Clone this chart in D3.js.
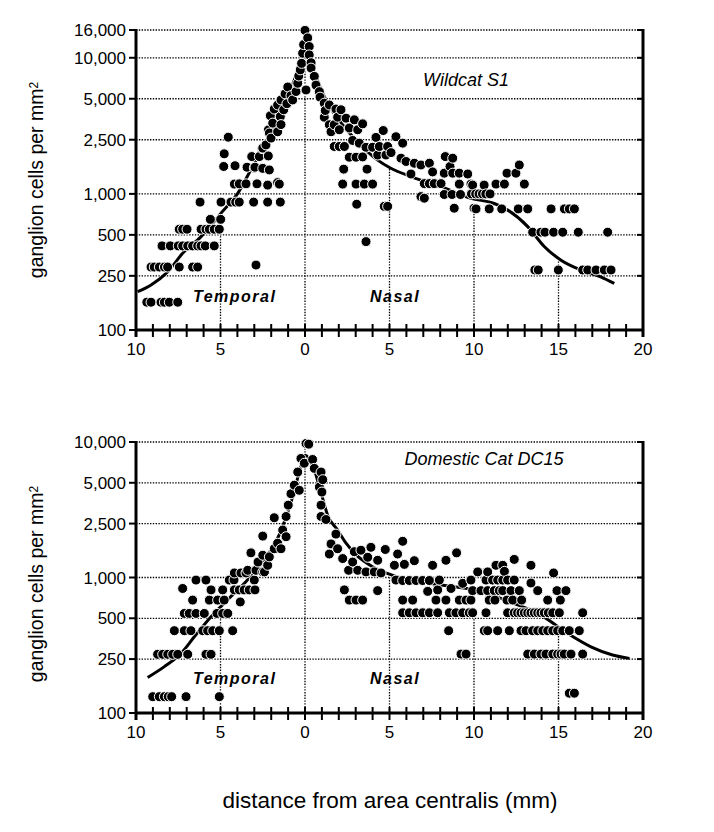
<!DOCTYPE html>
<html lang="en">
<head>
<meta charset="UTF-8" />
<title>Ganglion cell density: wildcat vs domestic cat</title>
<script src="https://d3js.org/d3.v7.min.js"></script>
<style>
  body { margin: 0; background: #fff; }
  svg { display: block; font-family: "Liberation Sans", Arial, Helvetica, sans-serif; }
  .grid { stroke: #000; stroke-width: 1.3; stroke-dasharray: 1.4 1.4; fill: none; }
  .axis-line { stroke: #000; stroke-width: 3; }
  .tick-mark { stroke: #000; stroke-width: 2; }
  .tick-label { font-size: 17px; fill: #000; }
  .dot { fill: #000; stroke: #fff; stroke-width: 1; }
  .fit { fill: none; stroke: #000; stroke-width: 3; }
  .side { font-size: 16px; font-weight: bold; font-style: italic; letter-spacing: 1.5px; }
  .title { font-size: 18px; font-style: italic; }
</style>
</head>
<body>
<svg width="714" height="832"></svg>
<script>
// distance from area centralis in mm: temporal side negative, nasal positive
const xTicks = [-10, -5, 0, 5, 10, 15, 20];
const xTickLabels = ["10", "5", "0", "5", "10", "15", "20"];
const yTicksWild = [100, 250, 500, 1000, 2500, 5000, 10000, 16000];
const yTicksDom = [100, 250, 500, 1000, 2500, 5000, 10000];

// Wildcat S1 — [distance, cells/mm²]
const wildPoints = [
  [0, 15900], [0.16, 14000], [0.25, 12100], [-0.08, 12500], [-0.14, 10800], [0.25, 10500],
  [0.36, 9200], [-0.2, 9100], [0.36, 8400], [-0.28, 8150], [-0.37, 7350], [0.55, 7300],
  [-0.43, 6500], [0.65, 6300], [0.06, 5800], [-0.53, 5650], [0.85, 5640], [0.89, 5140],
  [-0.73, 4900], [-0.83, 5270], [-1.02, 6100], [-1.07, 4600], [-1.18, 5430], [-1.26, 4150],
  [-1.42, 4900], [-1.46, 3700], [-1.42, 3230], [-1.62, 4500], [-1.62, 2860], [-1.82, 4200],
  [-1.91, 3310], [-2.01, 2570], [-2.05, 3750], [-2.17, 2950], [-2.31, 2290], [-2.5, 2170],
  [-2.11, 2800],
  [-4.54, 2610], [-4.78, 1970], [-4.81, 1590], [-4.14, 1610], [-3.43, 1570], [-3.15, 1880],
  [-2.7, 1880], [-2.17, 1900], [-2.96, 1570], [-2.5, 1540], [-2.11, 1500], [-3.0, 1550], [-2.54, 2150],
  [-4.18, 1180], [-3.89, 1185], [-3.49, 1185], [-2.84, 1185], [-2.21, 1160], [-1.62, 1210], [-1.52, 1180],
  [-6.21, 870], [-4.97, 870], [-4.38, 870], [-4.1, 870], [-3.89, 870], [-3.04, 870], [-2.21, 870], [-1.46, 870],
  [-5.6, 650], [-4.99, 650],
  [-7.44, 550], [-7.24, 550], [-6.98, 550], [-6.15, 550], [-5.86, 550], [-5.66, 550], [-5.37, 550], [-5.07, 550],
  [-8.46, 415], [-7.97, 415], [-7.5, 415], [-7.24, 415], [-6.94, 415], [-6.65, 415], [-6.35, 415],
  [-6.15, 415], [-5.9, 415], [-5.37, 415],
  [-9.11, 290], [-8.92, 290], [-8.62, 290], [-8.32, 290], [-8.13, 290], [-7.44, 290], [-6.65, 290], [-6.35, 290],
  [-2.9, 300],
  [-9.36, 160], [-9.11, 160], [-8.52, 160], [-8.32, 160], [-8.03, 160], [-7.53, 160],
  [1.14, 4640], [1.44, 4500], [1.2, 4100], [1.83, 4200], [2.13, 4150], [1.93, 3660], [1.14, 3660],
  [2.43, 3600], [1.44, 3220], [1.73, 3220], [2.92, 3500], [3.41, 3270], [2.03, 2960], [2.62, 3050],
  [3.12, 2960], [1.54, 2860], [4.63, 2920], [4.2, 2600], [5.38, 2630], [1.73, 2230], [2.03, 2230],
  [2.33, 2230], [2.82, 2470], [3.21, 2360], [3.61, 2200], [4.0, 2200], [4.4, 2230], [4.89, 2230],
  [5.78, 2360], [2.62, 1860], [3.02, 1860], [3.41, 1870], [4.3, 1930], [4.79, 1930], [5.09, 2010],
  [5.68, 1830], [5.98, 1730], [6.47, 1680], [6.27, 1400], [6.86, 1630], [7.36, 1680], [7.55, 1450],
  [7.06, 1190], [7.36, 1190], [7.65, 1190], [8.05, 1190], [8.3, 1880], [8.74, 1830], [8.58, 1590],
  [8.24, 1420], [8.74, 1420], [9.13, 1420], [9.63, 1400], [9.13, 1180], [9.82, 1180], [2.29, 1520],
  [3.67, 1520], [2.23, 1180], [3.02, 1180], [3.51, 1180], [4.0, 1180], [3.06, 840], [4.69, 810],
  [4.89, 810], [3.61, 446], [6.86, 955], [7.06, 930], [8.83, 785], [10.0, 785],
  [8.24, 990], [8.7, 990], [9.2, 990],
  [12.68, 1630], [11.95, 1420], [12.48, 1420], [11.3, 1180], [11.8, 1180], [10.6, 1160], [9.92, 1160], [12.98, 1180],
  [9.85, 1000], [10.1, 1000], [10.3, 1000], [10.5, 1000], [10.7, 1000], [10.95, 1000],
  [10.12, 776], [10.9, 776], [11.64, 776], [12.62, 776], [13.18, 776], [14.56, 776], [15.35, 776], [15.64, 776], [15.94, 776],
  [13.47, 523], [13.96, 523], [14.2, 523], [14.71, 523], [15.25, 523], [16.17, 523], [17.91, 523],
  [13.6, 276], [13.8, 276], [14.99, 276], [16.43, 276], [16.73, 276], [17.22, 276], [17.71, 276], [18.11, 276]
];
const wildCurve = [
  [-9.9, 191], [-9.11, 214], [-8.12, 268], [-7.24, 366], [-6.15, 485], [-4.97, 722], [-3.98, 1010],
  [-3.0, 1680], [-2.01, 2790], [-1.02, 5190], [-0.24, 9600], [0, 12500], [0.3, 9800], [0.7, 7000],
  [1.2, 5000], [2, 3500], [3, 2500], [4.3, 1770], [5.05, 1550], [6.27, 1340], [8.05, 1130],
  [9.82, 928], [11.2, 850], [12.0, 760], [13.18, 575], [14.17, 409], [15.15, 326], [16.33, 276],
  [17.5, 246], [18.3, 220]
];
const wildDrops = [[-5, 500], [0, 16000], [5, 1550], [10, 790], [15, 330]];

// Domestic Cat DC15
const domPoints = [
  [0.06, 9750], [-0.24, 7560], [-0.04, 6970], [-0.43, 6000], [-0.63, 4800], [-0.34, 4400],
  [-0.83, 4150], [-0.99, 3420], [-1.12, 2820], [-1.82, 2760], [-1.32, 2240], [-1.12, 2000],
  [-2.5, 2020], [-1.62, 1790], [-1.82, 1630], [-1.42, 1630], [-3.2, 1520], [-2.5, 1460],
  [-2.11, 1420], [-2.78, 1300], [-2.21, 1230], [-3.39, 1130], [-2.9, 1130], [-2.5, 1100],
  [-4.18, 1080], [-3.79, 1080], [-3.49, 1080], [-2.4, 1100],
  [-6.45, 957], [-5.86, 957], [-4.48, 957], [-4.2, 960], [-3.0, 957],
  [-7.24, 830], [-5.56, 810], [-4.87, 810], [-4.18, 810], [-3.89, 810], [-3.6, 810], [-3.3, 810], [-2.96, 810],
  [-6.65, 681], [-5.66, 681], [-5.17, 681], [-4.78, 681], [-3.83, 660],
  [-7.14, 543], [-6.85, 543], [-6.45, 543], [-5.96, 543], [-5.21, 543], [-4.87, 543], [-4.57, 543],
  [-7.73, 405], [-7.14, 405], [-6.75, 405], [-6.05, 405], [-5.76, 405], [-5.46, 405], [-5.07, 405], [-4.28, 405],
  [-8.72, 271], [-8.42, 271], [-8.12, 271], [-7.83, 271], [-7.53, 271], [-6.94, 271], [-5.86, 271], [-5.56, 271],
  [-9.01, 132], [-8.62, 132], [-8.32, 132], [-8.09, 132], [-7.89, 132], [-7.04, 132], [-5.07, 132],
  [0.22, 9640], [0.45, 7430], [0.55, 6390], [0.95, 6000], [1.05, 5270], [0.85, 4650], [1.0, 4270],
  [0.95, 3420], [0.95, 2820], [1.24, 2680], [1.83, 2090], [1.54, 1770], [1.93, 1630], [1.44, 1490],
  [2.23, 1380], [2.92, 1550], [3.31, 1590], [3.9, 1670], [4.75, 1610], [5.78, 1850], [2.82, 1300],
  [3.71, 1410], [4.3, 1340], [5.48, 1490], [2.58, 1130], [3.12, 1130], [3.61, 1100], [4.1, 1100],
  [4.5, 1080], [5.29, 1230], [5.88, 1250], [6.47, 1330], [7.55, 1230], [8.34, 1340], [8.97, 1520],
  [5.38, 957], [5.78, 950], [6.17, 950], [6.57, 950], [6.96, 950], [7.36, 950], [7.95, 957],
  [2.33, 810], [4.3, 800], [7.26, 790], [7.85, 810], [8.64, 830], [9.33, 905],
  [2.62, 681], [3.02, 681], [3.41, 681], [5.78, 681], [6.37, 681], [7.75, 681], [8.34, 681], [9.13, 681], [9.53, 681],
  [5.78, 549], [6.17, 549], [6.57, 549], [6.96, 549], [7.36, 549], [7.85, 549], [8.54, 549], [8.93, 549],
  [9.33, 549], [9.72, 549],
  [8.5, 405], [9.23, 272], [9.53, 272],
  [12.38, 1360], [13.37, 1230], [14.71, 1080], [10.22, 1100], [10.81, 1100], [11.3, 1230], [11.7, 1230], [11.8, 1110],
  [9.82, 957], [10.71, 957], [11.1, 957], [11.4, 957], [11.7, 957], [11.99, 957], [12.38, 957], [13.37, 910],
  [9.92, 800], [10.41, 800], [10.81, 800], [11.2, 800], [11.5, 800], [11.7, 800], [12.19, 800], [12.68, 800],
  [13.77, 800], [14.91, 800], [15.44, 800],
  [9.82, 681], [10.9, 681], [11.24, 681], [11.95, 681], [12.29, 681], [12.82, 681], [14.36, 681], [15.11, 681],
  [9.92, 549], [10.71, 549], [11.99, 549], [12.38, 549], [12.58, 549], [12.78, 549], [12.98, 549], [13.18, 549],
  [13.37, 549], [13.57, 549], [13.77, 549], [13.96, 549], [14.16, 549], [14.4, 549], [14.66, 549], [15.05, 549], [16.43, 549],
  [10.61, 405], [10.81, 405], [11.4, 405], [12.09, 405], [12.78, 405], [13.08, 405], [13.47, 405], [13.77, 405],
  [14.07, 405], [14.36, 405], [14.66, 405], [14.95, 405], [15.25, 405], [15.64, 405], [16.23, 405],
  [13.18, 272], [13.57, 272], [13.96, 272], [14.26, 272], [14.66, 272], [14.95, 272], [15.15, 272], [15.34, 272],
  [15.74, 272], [16.43, 272],
  [15.64, 140], [15.94, 140]
];
const domCurve = [
  [-9.31, 183], [-8.32, 220], [-7.34, 275], [-6.55, 365], [-5.56, 513], [-4.5, 700], [-3.5, 930],
  [-2.5, 1300], [-1.5, 2100], [-0.8, 3700], [-0.3, 6200], [0, 8000], [0.5, 6500], [1.0, 4000],
  [1.34, 2880], [1.93, 2240], [2.43, 1790], [3, 1480], [4, 1200], [5.48, 1010], [8.05, 880],
  [10, 810], [12.38, 643], [13.96, 528], [15.54, 387], [16.92, 308], [18.2, 268], [19.2, 253]
];
const domDrops = [[-5, 500], [0, 10000], [5, 1000], [10, 500], [15, 420]];

const svg = d3.select("svg");
svg.append("rect").attr("width", 714).attr("height", 832).attr("fill", "#fff");

const panels = [
  { points: wildPoints, curve: wildCurve, drops: wildDrops, yTicks: yTicksWild, yMax: 16000,
    top: 30, bottom: 330, title: "Wildcat S1", titleX: 466, titleY: 86, sideY: 302, labelY: 180 },
  { points: domPoints, curve: domCurve, drops: domDrops, yTicks: yTicksDom, yMax: 10000,
    top: 442, bottom: 713, title: "Domestic Cat DC15", titleX: 484, titleY: 465, sideY: 684, labelY: 584 }
];

const left = 136, right = 643;
const x = d3.scaleLinear().domain([-10, 20]).range([left, right]);

panels.forEach(p => {
  const y = d3.scaleLog().domain([100, p.yMax]).range([p.bottom, p.top]);
  const g = svg.append("g");

  // horizontal dotted grid
  g.selectAll(".hgrid").data(p.yTicks.filter(v => v > 100)).join("line")
    .attr("class", "grid")
    .attr("x1", left).attr("x2", right)
    .attr("y1", d => y(d)).attr("y2", d => y(d));

  // vertical dotted drop lines
  g.selectAll(".vgrid").data(p.drops).join("line")
    .attr("class", "grid")
    .attr("x1", d => x(d[0])).attr("x2", d => x(d[0]))
    .attr("y1", p.bottom).attr("y2", d => y(d[1]));

  // fitted curve
  const line = d3.line().x(d => x(d[0])).y(d => y(d[1])).curve(d3.curveMonotoneX);
  g.append("path").datum(p.curve).attr("class", "fit").attr("d", line);

  // dots, drawn left to right so overlaps stack like the original
  const pts = p.points.slice().sort((a, b) => a[0] - b[0]);
  g.selectAll(".dot").data(pts).join("circle")
    .attr("class", "dot")
    .attr("cx", d => x(d[0])).attr("cy", d => y(d[1]))
    .attr("r", 5);

  // axes frame
  g.append("line").attr("class", "axis-line")
    .attr("x1", left).attr("x2", left).attr("y1", p.top - 1).attr("y2", p.bottom + 7);
  g.append("line").attr("class", "axis-line")
    .attr("x1", right).attr("x2", right).attr("y1", p.top - 1).attr("y2", p.bottom + 7);
  g.append("line").attr("class", "axis-line")
    .attr("x1", left).attr("x2", right).attr("y1", p.bottom).attr("y2", p.bottom);

  // x minor ticks every mm
  g.selectAll(".xt").data(d3.range(-10, 21)).join("line")
    .attr("class", "tick-mark")
    .attr("x1", d => x(d)).attr("x2", d => x(d))
    .attr("y1", p.bottom - 6).attr("y2", p.bottom + 7);

  g.selectAll(".xl").data(xTicks).join("text")
    .attr("class", "tick-label")
    .attr("text-anchor", "middle")
    .attr("x", d => x(d)).attr("y", p.bottom + 25)
    .text((d, i) => xTickLabels[i]);

  // y ticks
  g.selectAll(".ytl").data(p.yTicks).join("line")
    .attr("class", "tick-mark")
    .attr("x1", left - 7).attr("x2", left)
    .attr("y1", d => y(d)).attr("y2", d => y(d));
  g.selectAll(".ytr").data(p.yTicks.filter(v => v > 100)).join("line")
    .attr("class", "tick-mark")
    .attr("x1", right - 6).attr("x2", right)
    .attr("y1", d => y(d)).attr("y2", d => y(d));
  g.selectAll(".yl").data(p.yTicks).join("text")
    .attr("class", "tick-label")
    .attr("text-anchor", "end")
    .attr("x", left - 10).attr("y", d => y(d)).attr("dy", "0.36em")
    .text(d => d3.format(",")(d));

  // y label
  const yl = g.append("text")
    .attr("transform", `translate(43,${p.labelY}) rotate(-90)`)
    .attr("text-anchor", "middle")
    .style("font-size", "19.5px");
  yl.append("tspan").text("ganglion cells per mm");
  yl.append("tspan").attr("dy", "-0.45em").style("font-size", "12px").text("2");

  // panel texts
  g.append("text").attr("class", "title").attr("text-anchor", "middle")
    .attr("x", p.titleX).attr("y", p.titleY).text(p.title);
  g.append("text").attr("class", "side").attr("x", 193).attr("y", p.sideY).text("Temporal");
  g.append("text").attr("class", "side").attr("x", 370).attr("y", p.sideY).text("Nasal");
});

svg.append("text")
  .attr("x", 390).attr("y", 808)
  .attr("text-anchor", "middle")
  .style("font-size", "22.5px")
  .text("distance from area centralis (mm)");
</script>
</body>
</html>
